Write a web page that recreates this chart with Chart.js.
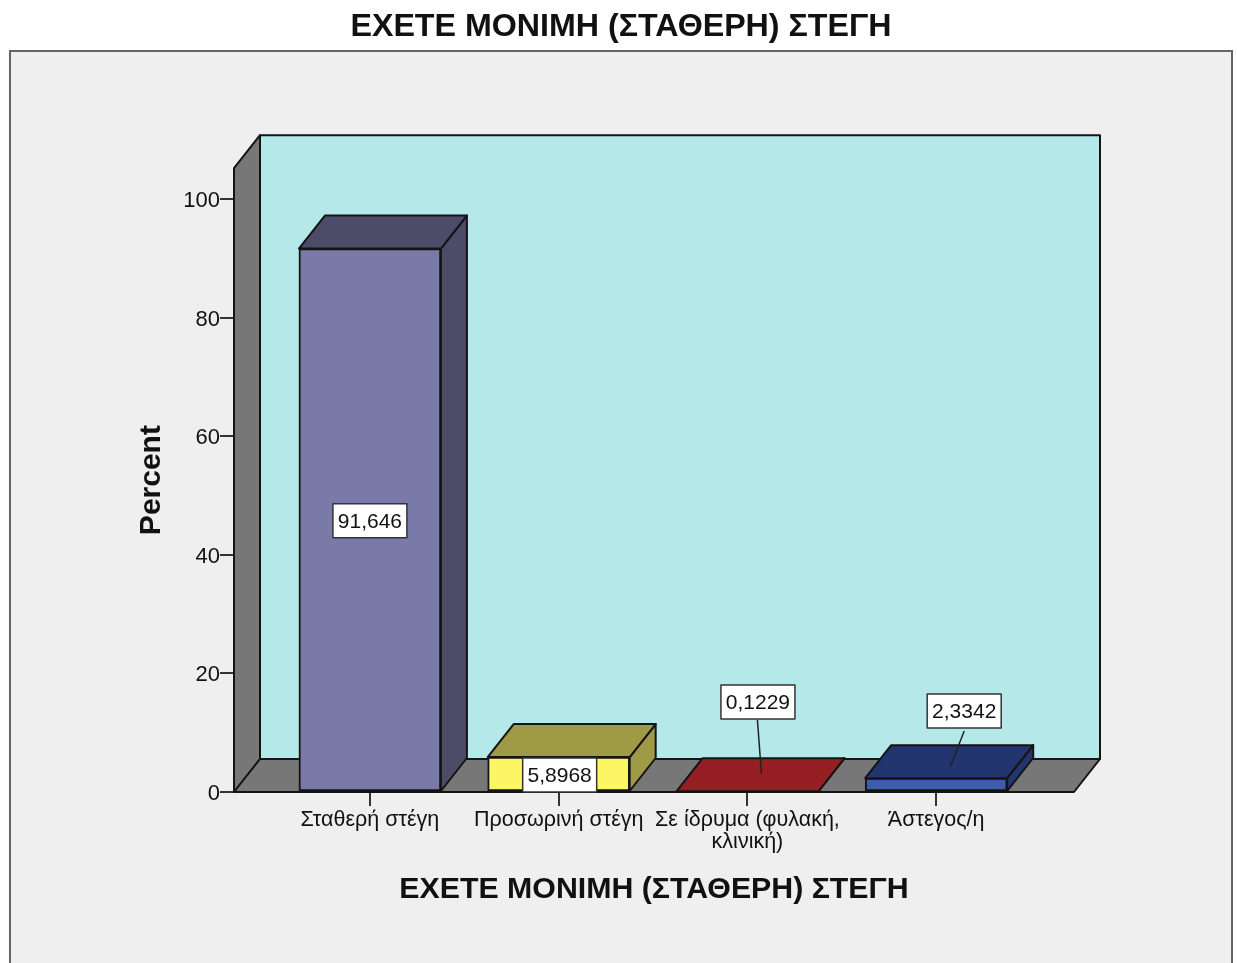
<!DOCTYPE html>
<html><head><meta charset="utf-8">
<style>html,body{margin:0;padding:0;background:#fff}canvas{display:block}</style>
<script src="https://cdn.jsdelivr.net/npm/chart.js@4"></script></head>
<body><canvas id="c" width="1237" height="963"></canvas>
<script>
const titleText = 'ΕΧΕΤΕ ΜΟΝΙΜΗ (ΣΤΑΘΕΡΗ) ΣΤΕΓΗ';
const yTitle = 'Percent';
const categories = ['Σταθερή στέγη','Προσωρινή στέγη',['Σε ίδρυμα (φυλακή,','κλινική)'],'Άστεγος/η'];
const percents = [91.646,5.8968,0.1229,2.3342];
const valueLabels = ['91,646','5,8968','0,1229','2,3342'];
const frontColors = ['#7a7aa8','#fdf664','#951f23','#3f5bb0'];
const darkColors = ['#4c4c68','#9e9a45','#951f23','#23356f'];
const FONT = '"Liberation Sans", Arial, sans-serif';
const DX = 26, DY = -33, INK = '#141414';

function poly(ctx, pts, fill){
  ctx.beginPath();
  pts.forEach((p,i)=> i ? ctx.lineTo(p[0],p[1]) : ctx.moveTo(p[0],p[1]));
  ctx.closePath();
  ctx.fillStyle = fill; ctx.fill();
  ctx.lineWidth = 2; ctx.strokeStyle = INK; ctx.lineJoin='round'; ctx.stroke();
}
const scene = {
  id:'scene',
  beforeDraw(chart){
    const c = chart.ctx;
    c.save();
    c.fillStyle='#fff'; c.fillRect(0,0,chart.width,chart.height);
    c.fillStyle='#efefef'; c.fillRect(10,51,1222,930);
    c.strokeStyle='#666'; c.lineWidth=2; c.strokeRect(10,51,1222,930);
    c.restore();
  },
  beforeDatasetsDraw(chart){
    const c = chart.ctx, a = chart.chartArea;
    c.save();
    poly(c,[[a.left+DX,a.top+DY],[a.right+DX,a.top+DY],[a.right+DX,a.bottom+DY],[a.left+DX,a.bottom+DY]],'#b5e8e8');
    poly(c,[[a.left,a.top],[a.left+DX,a.top+DY],[a.left+DX,a.bottom+DY],[a.left,a.bottom]],'#777777');
    poly(c,[[a.left,a.bottom],[a.left+DX,a.bottom+DY],[a.right+DX,a.bottom+DY],[a.right,a.bottom]],'#777777');
    c.restore();
  },
  afterDatasetsDraw(chart){
    const c = chart.ctx, meta = chart.getDatasetMeta(0);
    // label box centre and leader, relative to the bar's front-base centre
    const place = [
      {cx:0, cy:null},
      {cx:1, cy:null},
      {cx:10.5, cy:-89, lead:[[10,-71],[14,-17]]},
      {cx:28, cy:-80, lead:[[28,-60],[14,-24]]}
    ];
    c.save();
    meta.data.forEach((b,i)=>{
      const l=b.x-b.width/2, r=b.x+b.width/2, t=b.y, g=b.base;
      poly(c,[[r,t],[r+DX,t+DY],[r+DX,g+DY],[r,g]],darkColors[i]);
      poly(c,[[l,t],[l+DX,t+DY],[r+DX,t+DY],[r,t]],darkColors[i]);
    });
    meta.data.forEach((b,i)=>{
      const p=place[i];
      const cx=b.x+p.cx, cy=p.cy===null?(b.y+b.base)/2+1:b.base+p.cy;
      if(p.lead){
        c.beginPath();
        c.moveTo(b.x+p.lead[0][0],b.base+p.lead[0][1]);
        c.lineTo(b.x+p.lead[1][0],b.base+p.lead[1][1]);
        c.strokeStyle='#222'; c.lineWidth=1.5; c.stroke();
      }
      c.fillStyle='#fff'; c.strokeStyle='#333'; c.lineWidth=1.5;
      c.fillRect(cx-37,cy-17,74,34); c.strokeRect(cx-37,cy-17,74,34);
      c.fillStyle='#111'; c.font='21px '+FONT; c.textAlign='center'; c.textBaseline='middle';
      c.fillText(valueLabels[i],cx,cy+1);
    });
    c.restore();
  }
};
new Chart(document.getElementById('c'),{
  type:'bar',
  data:{datasets:[{
    data:percents.map((v,i)=>({x:i,y:v})),
    backgroundColor:frontColors,borderColor:INK,borderWidth:2,borderSkipped:false,barThickness:142
  }]},
  options:{
    responsive:false,animation:false,
    layout:{padding:{left:10,right:5,top:0,bottom:0}},
    plugins:{
      legend:{display:false},tooltip:{enabled:false},
      title:{display:true,text:titleText,color:'#111',
        font:{family:FONT,size:32.2,weight:'bold',lineHeight:1},
        padding:{top:11,bottom:125}}
    },
    scales:{
      x:{type:'linear',min:-0.72,max:3.73,offset:false,
        afterBuildTicks:s=>{s.ticks=categories.map((_,i)=>({value:i}));},
        afterFit:s=>{s.height=171;},
        border:{display:false},
        grid:{offset:false,drawOnChartArea:false,drawTicks:true,tickLength:14,color:'#333',lineWidth:2},
        ticks:{autoSkip:false,maxRotation:0,padding:3,color:'#111',
          font:{family:FONT,size:21.5,lineHeight:1.03},
          callback:v=>categories[v]},
        title:{display:true,text:titleText,color:'#111',
          font:{family:FONT,size:30.3,weight:'bold',lineHeight:1},
          padding:{top:0,bottom:58}}
      },
      y:{min:0,max:105.2,
        afterBuildTicks:s=>{s.ticks=[0,20,40,60,80,100].map(v=>({value:v}));},
        afterFit:s=>{s.width=224;},
        border:{display:false},
        grid:{drawOnChartArea:false,drawTicks:true,tickLength:14,color:'#333',lineWidth:2},
        ticks:{padding:0,labelOffset:2,color:'#111',font:{family:FONT,size:22}},
        title:{display:true,text:yTitle,color:'#111',
          font:{family:FONT,size:30,weight:'bold',lineHeight:1},
          padding:{top:127,bottom:0}}
      },
      spacer:{position:'right',display:true,
        afterFit:s=>{s.width=158;},
        border:{display:false},grid:{display:false},ticks:{display:false}}
    }
  },
  plugins:[scene]
});
</script></body></html>
